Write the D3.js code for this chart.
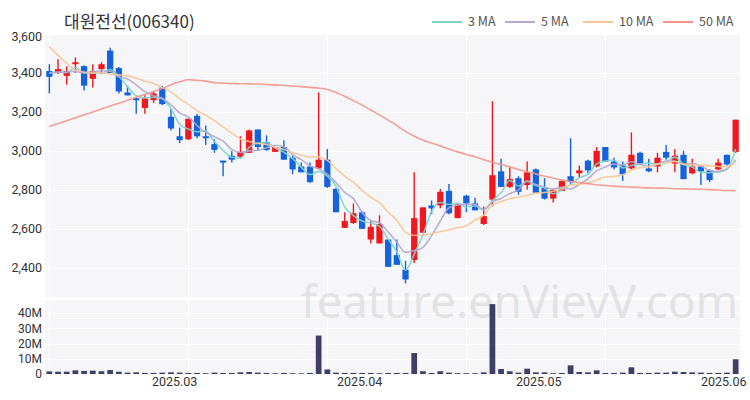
<!DOCTYPE html>
<html><head><meta charset="utf-8">
<script src="https://cdn.jsdelivr.net/npm/d3@7/dist/d3.min.js"></script>
<style>body{margin:0;background:#fff}svg{display:block}</style>
</head><body>
<svg id="chart" width="750" height="400"></svg>
<script>
const title = "대원전선(006340)";
const dates = ["02-06","02-07","02-10","02-11","02-12","02-13","02-14","02-17","02-18","02-19","02-20","02-21","02-24","02-25","02-26","02-27","02-28",
"03-04","03-05","03-06","03-07","03-10","03-11","03-12","03-13","03-14","03-17","03-18","03-19","03-20","03-21","03-24","03-25","03-26","03-27","03-28","03-31",
"04-01","04-02","04-03","04-04","04-07","04-08","04-09","04-10","04-11","04-14","04-15","04-16","04-17","04-18","04-21","04-22","04-23","04-24","04-25","04-28","04-29","04-30",
"05-02","05-07","05-08","05-09","05-12","05-13","05-14","05-15","05-16","05-19","05-20","05-21","05-22","05-23","05-26","05-27","05-28","05-29","05-30",
"06-02","06-04"];
const open = [3410,3400,3385,3445,3435,3370,3420,3515,3425,3300,3270,3220,3260,3325,3175,3075,3060,3180,3075,3035,2950,2975,2970,2990,3110,3045,2995,3020,2965,2920,2920,2910,2955,2805,2605,2630,2685,2545,2525,2545,2465,2390,2440,2580,2720,2720,2795,2655,2770,2730,2625,2750,2895,2815,2860,2825,2905,2810,2755,2795,2870,2885,2950,2920,3020,2945,2925,2910,2990,2910,2920,2995,2935,2980,2885,2920,2900,2905,2980,2995];
const high = [3445,3470,3435,3480,3440,3445,3455,3530,3430,3335,3275,3285,3305,3335,3215,3120,3165,3190,3130,3060,2950,3000,3075,3110,3110,3080,3020,3055,2975,2940,2940,3300,3010,2810,2685,2730,2690,2640,2670,2545,2545,2435,2890,2710,2745,2805,2830,2730,2775,2760,2715,3255,2960,2915,2870,2945,2910,2860,2805,2850,3065,2925,2955,3020,3020,2965,2945,3095,2995,2960,2990,3030,3010,3000,2960,2925,2905,2960,2980,3160];
const low = [3295,3395,3340,3400,3310,3325,3395,3400,3295,3285,3190,3190,3245,3235,3105,3040,3055,3065,3030,2990,2870,2940,2965,2990,3000,3000,2995,2955,2880,2890,2835,2905,2810,2685,2605,2625,2600,2525,2525,2405,2415,2320,2425,2580,2675,2705,2675,2655,2685,2695,2620,2715,2815,2810,2775,2800,2785,2750,2735,2795,2830,2865,2885,2915,2945,2905,2845,2905,2930,2890,2890,2955,2890,2855,2880,2825,2840,2900,2925,2990];
const close = [3380,3420,3410,3455,3335,3410,3445,3400,3305,3285,3260,3270,3295,3240,3115,3055,3165,3075,3065,3005,2940,2955,2995,3105,3020,3005,3020,2955,2905,2890,2840,2955,2815,2685,2640,2680,2600,2610,2625,2405,2415,2340,2655,2710,2705,2790,2680,2725,2730,2695,2665,2875,2815,2855,2790,2890,2785,2755,2800,2845,2840,2900,2900,3000,2945,2915,2880,2980,2935,2895,2965,2965,2975,2855,2920,2895,2850,2940,2930,3160];
const volumeM = [1.7,1.5,1.5,2.4,2.0,2.2,1.8,2.6,1.5,0.9,1.1,0.7,0.7,0.9,1.1,0.9,0.7,0.7,0.5,0.9,0.7,0.7,1.1,1.3,0.9,0.7,0.5,0.7,0.5,0.4,0.7,25.3,3.0,0.9,0.7,0.7,0.7,0.7,0.5,0.7,0.7,0.7,13.8,1.8,0.7,1.8,0.9,0.5,0.5,0.5,1.1,46.0,3.3,1.8,0.9,3.5,1.1,1.1,0.5,0.7,5.7,1.3,1.1,2.4,0.7,0.7,0.9,4.4,0.7,0.7,0.9,0.9,1.5,1.3,1.1,0.9,0.7,0.7,0.9,9.7];
const ma3 = [3400,3405,3403,3428,3400,3400,3397,3418,3383,3330,3283,3272,3275,3268,3217,3137,3112,3098,3102,3048,3003,2967,2963,3018,3040,3043,3015,2993,2960,2917,2878,2895,2870,2818,2713,2668,2640,2630,2612,2547,2482,2387,2470,2568,2690,2735,2725,2732,2712,2717,2697,2745,2785,2848,2820,2845,2822,2810,2780,2800,2828,2862,2880,2933,2948,2953,2913,2925,2932,2937,2932,2942,2968,2932,2917,2890,2888,2895,2907,3010];
const ma5 = [3400,3402,3404,3408,3400,3406,3411,3409,3379,3369,3339,3304,3283,3270,3236,3195,3174,3130,3095,3073,3050,3008,2992,3000,3003,3016,3029,3021,2981,2955,2922,2909,2881,2837,2787,2755,2684,2643,2631,2584,2531,2479,2488,2505,2565,2640,2708,2722,2726,2724,2699,2738,2756,2781,2800,2845,2827,2815,2804,2815,2805,2828,2857,2897,2917,2932,2928,2944,2931,2921,2931,2948,2947,2931,2936,2922,2899,2892,2907,2955];
const ma10 = [3535,3490,3450,3415,3405,3400,3400,3395,3390,3385,3373,3358,3346,3325,3303,3267,3239,3207,3183,3155,3123,3091,3061,3048,3038,3033,3019,3007,2991,2979,2969,2969,2951,2909,2871,2839,2797,2762,2734,2686,2643,2582,2566,2568,2575,2586,2594,2605,2616,2645,2670,2723,2739,2754,2762,2772,2783,2786,2793,2808,2825,2828,2836,2851,2866,2869,2878,2901,2914,2919,2932,2938,2946,2931,2929,2927,2924,2920,2919,2946];
const ma50 = [3125,3140,3155,3170,3185,3200,3215,3230,3245,3260,3275,3290,3305,3320,3340,3355,3365,3362,3358,3350,3348,3346,3345,3344,3343,3341,3339,3336,3333,3330,3326,3322,3315,3300,3280,3258,3235,3210,3185,3158,3130,3100,3075,3055,3040,3025,3010,2995,2982,2970,2955,2942,2930,2918,2905,2893,2882,2870,2860,2850,2843,2837,2831,2826,2822,2819,2816,2814,2812,2810,2809,2808,2806,2805,2804,2803,2801,2799,2797,2796];
const priceTicks = [2400,2600,2800,3000,3200,3400,3600];
const volTicks = [0,10,20,30,40];
const monthTickDates = ["2025-03-01","2025-04-01","2025-05-01","2025-06-01"];
const monthLabels = ["2025.03","2025.04","2025.05","2025.06"];
const labelSpan = ["2025-02-08","2025-06-03"];
const maNames = ["3 MA","5 MA","10 MA","50 MA"];
const maColors = ["#7dd3cc","#b2a8d2","#f5c797","#f3958b"];

const svg = d3.select("#chart");
const L = 45, R = 740, pTop = 34, pBot = 297, vTop = 300, vBot = 375;
const font = "'Noto Sans CJK KR','Noto Sans',sans-serif";
const numFont = "Roboto,'Noto Sans',sans-serif";

const x = d3.scaleBand().domain(dates).range([L, R]).padding(0);
const bw = x.bandwidth();
const cx = i => x(dates[i]) + bw / 2;
const y = d3.scaleLinear().domain([2250, 3600]).range([pBot, pTop]);
const yv = d3.scaleLinear().domain([0, 48.7]).range([vBot - 1, vTop]);
const xt = d3.scaleTime().domain(labelSpan.map(d => new Date(d + "T00:00:00"))).range([cx(0), cx(dates.length - 1)]);

// panels
svg.append("rect").attr("x", L).attr("y", pTop).attr("width", R - L).attr("height", pBot - pTop).attr("fill", "#f6f6f8");
svg.append("rect").attr("x", L).attr("y", vTop).attr("width", R - L).attr("height", vBot - vTop).attr("fill", "#f6f6f8");

// grid
const g = svg.append("g").attr("stroke", "#ffffff").attr("stroke-width", 1);
priceTicks.forEach(t => g.append("line").attr("x1", L).attr("x2", R).attr("y1", Math.round(y(t)) + 0.5).attr("y2", Math.round(y(t)) + 0.5));
volTicks.slice(1).forEach(t => g.append("line").attr("x1", L).attr("x2", R).attr("y1", Math.round(yv(t)) + 0.5).attr("y2", Math.round(yv(t)) + 0.5));
[0, 16, 32, 48, 64].forEach(i => {
  const xx = Math.round(cx(i)) + 0.5;
  g.append("line").attr("x1", xx).attr("x2", xx).attr("y1", pTop).attr("y2", pBot);
  g.append("line").attr("x1", xx).attr("x2", xx).attr("y1", vTop).attr("y2", vBot);
});

// watermark
svg.append("text").attr("x", 301).attr("y", 318).attr("font-family", "'Noto Sans',sans-serif")
  .attr("font-size", 45).attr("fill", "#cfcfcf").attr("opacity", 0.5)
  .attr("textLength", 437).attr("lengthAdjust", "spacingAndGlyphs").text("feature.enVievV.com");

// candles
const up = "#f2161e", dn = "#1462dc";
const cg = svg.append("g");
dates.forEach((d, i) => {
  const col = close[i] >= open[i] ? up : dn;
  cg.append("line").attr("x1", cx(i)).attr("x2", cx(i)).attr("y1", y(high[i])).attr("y2", y(low[i]))
    .attr("stroke", col).attr("stroke-width", 1.4);
  const top = y(Math.max(open[i], close[i])), bot = y(Math.min(open[i], close[i]));
  cg.append("rect").attr("x", cx(i) - bw * 0.36).attr("width", bw * 0.72)
    .attr("y", top).attr("height", Math.max(1.2, bot - top)).attr("fill", col);
});

// MA lines
const line = d3.line().x((v, i) => cx(i)).y(v => y(v)).curve(d3.curveMonotoneX);
[ma3, ma5, ma10, ma50].forEach((arr, k) => {
  svg.append("path").attr("d", line(arr)).attr("fill", "none").attr("stroke", maColors[k])
    .attr("stroke-width", 1.6).attr("opacity", 0.9);
});

// volume bars
dates.forEach((d, i) => {
  svg.append("rect").attr("x", cx(i) - bw * 0.33).attr("width", bw * 0.66)
    .attr("y", yv(volumeM[i])).attr("height", yv(0) - yv(volumeM[i])).attr("fill", "#3d3f66");
});

// axes labels
const fmt = d3.format(",");
priceTicks.forEach(t => svg.append("text").attr("x", 42).attr("y", y(t) + (t === 3600 ? 3 : 0)).attr("dy", "0.35em")
  .attr("text-anchor", "end").attr("font-family", numFont).attr("font-size", 12.5).attr("fill", "#333").text(fmt(t)));
volTicks.forEach(t => svg.append("text").attr("x", 42).attr("y", yv(t)).attr("dy", "0.35em")
  .attr("text-anchor", "end").attr("font-family", numFont).attr("font-size", 12).attr("fill", "#333").text(t === 0 ? "0" : t + "M"));
monthTickDates.forEach((d, k) => svg.append("text").attr("x", xt(new Date(d + "T00:00:00"))).attr("y", 386)
  .attr("text-anchor", "middle").attr("font-family", numFont).attr("font-size", 12.5).attr("fill", "#333").text(monthLabels[k]));

// title
svg.append("text").attr("x", 64).attr("y", 28).attr("font-family", font).attr("font-size", 17)
  .attr("fill", "#333").text(title);

// legend
const legendX = [432, 505, 583, 663];
maNames.forEach((n, k) => {
  const lx = legendX[k];
  svg.append("line").attr("x1", lx).attr("x2", lx + 30).attr("y1", 22).attr("y2", 22)
    .attr("stroke", maColors[k]).attr("stroke-width", 2);
  svg.append("text").attr("x", lx + 36).attr("y", 22).attr("dy", "0.35em")
    .attr("font-family", font).attr("font-size", 12.5).attr("fill", "#555").text(n);
});
</script>
</body></html>
